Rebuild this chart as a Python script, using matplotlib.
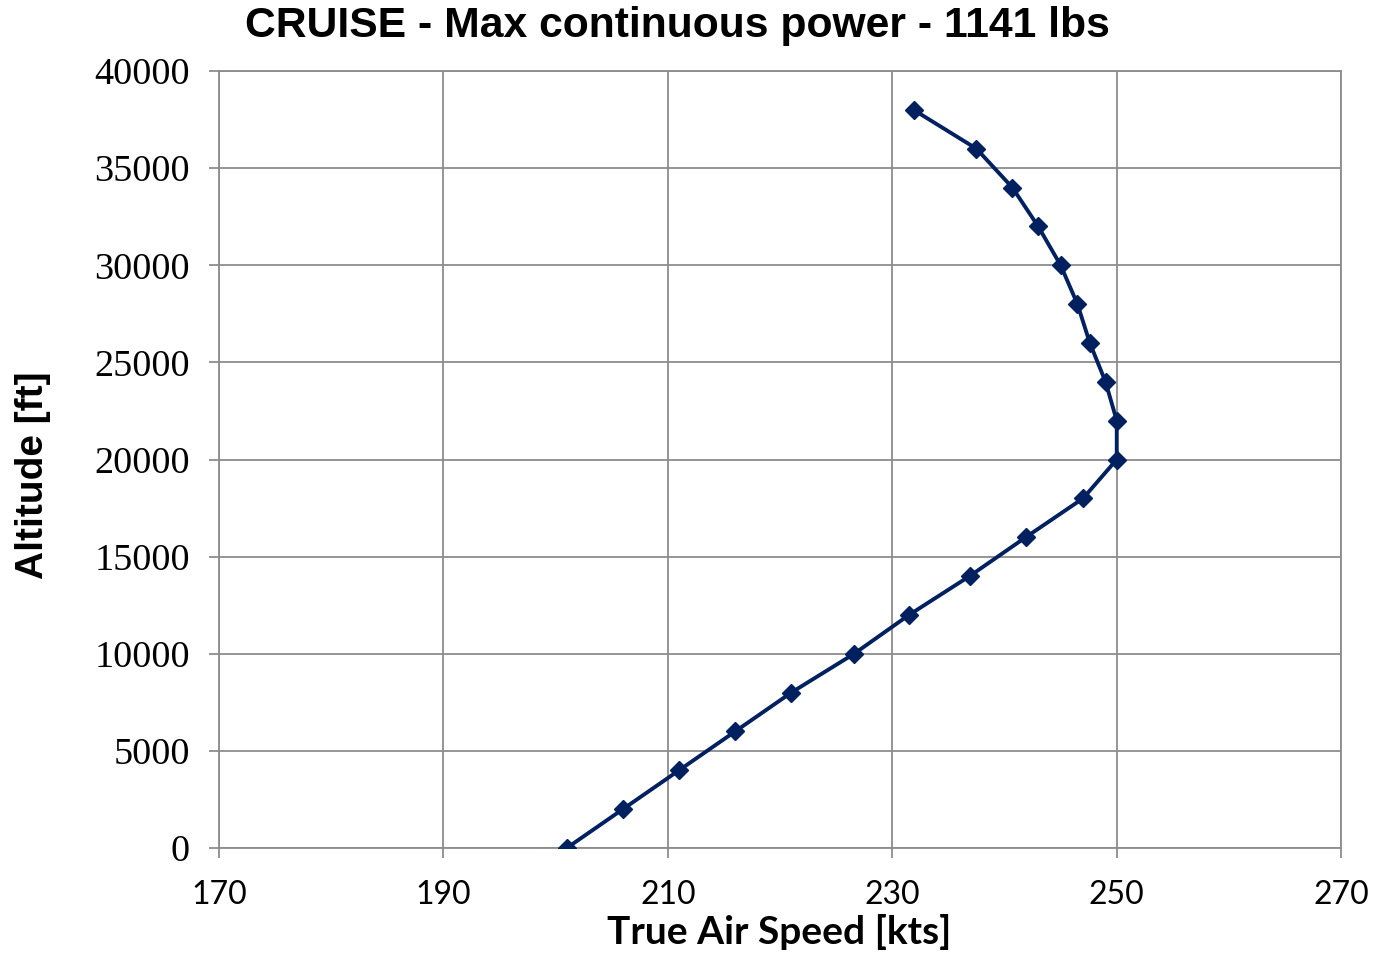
import matplotlib.pyplot as plt

# cruise data
altitude_ft = [0, 2000, 4000, 6000, 8000, 10000, 12000, 14000, 16000, 18000,
               20000, 22000, 24000, 26000, 28000, 30000, 32000, 34000, 36000, 38000]
tas_kts = [201, 206, 211, 216, 221, 226.6, 231.5, 236.9, 241.9, 247.0,
           250.0, 250.0, 249.0, 247.6, 246.5, 245.0, 243.0, 240.7, 237.5, 231.9]

x_ticks = [170, 190, 210, 230, 250, 270]
y_ticks = [0, 5000, 10000, 15000, 20000, 25000, 30000, 35000, 40000]

grid_col = '#8c8c8c'
line_col = '#002060'

fig = plt.figure(figsize=(13.77, 9.56), dpi=100)
ax = fig.add_axes([0.159, 0.113, 0.815, 0.8127])

ax.plot(tas_kts, altitude_ft, color=line_col, linewidth=2.8,
        marker='D', markersize=9, zorder=3)

ax.set_xlim(170, 270)
ax.set_ylim(0, 40000)
ax.set_xticks(x_ticks)
ax.set_yticks(y_ticks)
ax.set_xticklabels([str(v) for v in x_ticks], fontfamily='Lato', fontsize=23)
ax.set_yticklabels([str(v) for v in y_ticks], fontfamily='Liberation Serif', fontsize=27.5)

ax.grid(True, color=grid_col, linewidth=1.3)
ax.tick_params(axis='both', direction='out', length=7, width=1.3, color=grid_col)
ax.tick_params(axis='x', pad=16)
ax.tick_params(axis='y', pad=14)
for s in ax.spines.values():
    s.set_color(grid_col)
    s.set_linewidth(1.3)

fig.text(0.492, 0.973, 'CRUISE - Max continuous power - 1141 lbs', fontfamily='Liberation Sans',
         fontweight='bold', fontsize=30.7, ha='center', va='center')
ax.set_xlabel('True Air Speed [kts]', fontfamily='Lato', fontweight='bold',
              fontsize=28, va='center')
ax.xaxis.set_label_coords(0.499, -0.108)
ax.set_ylabel('Altitude [ft]', fontfamily='Liberation Sans', fontweight='bold',
              fontsize=28, va='center')
ax.yaxis.set_label_coords(-0.166, 0.48)

fig.savefig('out.png', dpi=100)
